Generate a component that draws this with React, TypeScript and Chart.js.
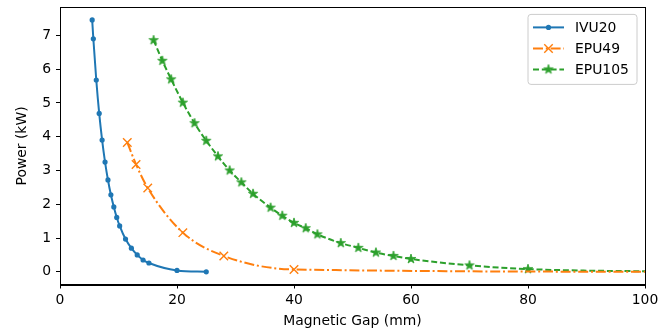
import React, { useEffect, useRef } from 'react';
import { Chart, registerables } from 'chart.js';

Chart.register(...registerables);

// ---- Data ----
const ivuGap = [5.5, 5.7, 6.2, 6.7, 7.2, 7.7, 8.2, 8.7, 9.2, 9.7, 10.2, 11.2, 12.2, 13.2, 14.2, 15.2, 20, 25];
const ivuPower = [7.46, 6.9, 5.68, 4.69, 3.9, 3.25, 2.72, 2.28, 1.92, 1.61, 1.36, 0.97, 0.7, 0.5, 0.35, 0.26, 0.04, 0.0];

const epu49Gap = [11.5, 13, 15, 21, 28, 40, 110];
const epu49Power = [3.83, 3.18, 2.48, 1.16, 0.47, 0.07, 0.0];

const epu105Gap = [16, 17.5, 19, 21, 23, 25, 27, 29, 31, 33, 36, 38, 40, 42, 44, 48, 51, 54, 57, 60, 70, 80, 110];
const epu105Power = [6.86, 6.25, 5.7, 5.01, 4.4, 3.88, 3.42, 3.0, 2.65, 2.31, 1.9, 1.66, 1.45, 1.29, 1.11, 0.85, 0.71, 0.57, 0.47, 0.38, 0.19, 0.08, 0.0];

const seriesLabels = ['IVU20', 'EPU49', 'EPU105'];
const xTicks = [0, 20, 40, 60, 80, 100];
const yTicks = [0, 1, 2, 3, 4, 5, 6, 7];

const BLUE = '#1f77b4';
const ORANGE = '#ff7f0e';
const GREEN = '#2ca02c';
const FONT = "'DejaVu Sans', sans-serif";
const FS = 13.9;

function makeStar(color: string, r: number): HTMLCanvasElement {
  const s = Math.ceil(2 * r + 2);
  const c = document.createElement('canvas');
  c.width = s;
  c.height = s;
  const ctx = c.getContext('2d')!;
  ctx.translate(s / 2, s / 2);
  ctx.beginPath();
  for (let i = 0; i < 10; i++) {
    const rad = i % 2 === 0 ? r : r * 0.382;
    const a = -Math.PI / 2 + (i * Math.PI) / 5;
    const x = rad * Math.cos(a);
    const y = rad * Math.sin(a);
    if (i === 0) ctx.moveTo(x, y);
    else ctx.lineTo(x, y);
  }
  ctx.closePath();
  ctx.fillStyle = color;
  ctx.fill();
  ctx.strokeStyle = color;
  ctx.lineWidth = 0.8;
  ctx.stroke();
  return c;
}

const framePlugin = {
  id: 'mplFrame',
  afterDraw(chart: any) {
    const { ctx, chartArea } = chart;
    ctx.save();
    ctx.strokeStyle = '#000';
    ctx.lineWidth = 1;
    ctx.setLineDash([]);
    const l = Math.round(chartArea.left) + 0.5;
    const t = Math.round(chartArea.top) + 0.5;
    const r = Math.round(chartArea.right) + 0.5;
    const b = Math.round(chartArea.bottom) + 0.5;
    ctx.strokeRect(l, t, r - l, b - t);
    ctx.restore();
  },
};

function drawMarker(ctx: CanvasRenderingContext2D, ds: any, x: number, y: number) {
  const style = ds.pointStyle;
  if (typeof style === 'object') {
    ctx.drawImage(style, x - style.width / 2, y - style.height / 2);
  } else if (style === 'circle') {
    ctx.beginPath();
    ctx.arc(x, y, ds.pointRadius, 0, Math.PI * 2);
    ctx.fillStyle = ds.pointBackgroundColor;
    ctx.fill();
  } else if (style === 'crossRot') {
    const r = ds.pointRadius * Math.SQRT1_2;
    ctx.setLineDash([]);
    ctx.lineWidth = ds.pointBorderWidth;
    ctx.strokeStyle = ds.pointBorderColor;
    ctx.beginPath();
    ctx.moveTo(x - r, y - r);
    ctx.lineTo(x + r, y + r);
    ctx.moveTo(x - r, y + r);
    ctx.lineTo(x + r, y - r);
    ctx.stroke();
  }
}

const legendPlugin = {
  id: 'mplLegend',
  afterDraw(chart: any) {
    const { ctx, chartArea } = chart;
    const w = 109;
    const h = 70;
    const x0 = chartArea.right - 8 - w;
    const y0 = chartArea.top + 7;
    ctx.save();
    ctx.beginPath();
    const rr = 3;
    ctx.moveTo(x0 + rr, y0);
    ctx.lineTo(x0 + w - rr, y0);
    ctx.arcTo(x0 + w, y0, x0 + w, y0 + rr, rr);
    ctx.lineTo(x0 + w, y0 + h - rr);
    ctx.arcTo(x0 + w, y0 + h, x0 + w - rr, y0 + h, rr);
    ctx.lineTo(x0 + rr, y0 + h);
    ctx.arcTo(x0, y0 + h, x0, y0 + h - rr, rr);
    ctx.lineTo(x0, y0 + rr);
    ctx.arcTo(x0, y0, x0 + rr, y0, rr);
    ctx.closePath();
    ctx.fillStyle = 'rgba(255,255,255,0.8)';
    ctx.fill();
    ctx.strokeStyle = '#cccccc';
    ctx.lineWidth = 1;
    ctx.stroke();

    chart.data.datasets.forEach((ds: any, i: number) => {
      const y = y0 + 13 + i * 21;
      ctx.save();
      ctx.setLineDash(ds.borderDash || []);
      ctx.strokeStyle = ds.borderColor;
      ctx.lineWidth = ds.borderWidth;
      ctx.beginPath();
      ctx.moveTo(x0 + 5, y);
      ctx.lineTo(x0 + 36, y);
      ctx.stroke();
      ctx.restore();
      ctx.save();
      drawMarker(ctx, ds, x0 + 20.5, y);
      ctx.restore();
      ctx.fillStyle = '#000';
      ctx.font = `${FS}px ${FONT}`;
      ctx.textBaseline = 'middle';
      ctx.textAlign = 'left';
      ctx.fillText(ds.label, x0 + 47, y + 0.5);
    });
    ctx.restore();
  },
};

export default function App() {
  const ref = useRef<HTMLCanvasElement | null>(null);

  useEffect(() => {
    if (!ref.current) return;
    const star = makeStar(GREEN, 5);
    const toPts = (xs: number[], ys: number[]) => xs.map((x, i) => ({ x, y: ys[i] }));
    const chart = new Chart(ref.current, {
      type: 'line',
      data: {
        datasets: [
          {
            label: seriesLabels[0],
            data: toPts(ivuGap, ivuPower),
            borderColor: BLUE,
            backgroundColor: BLUE,
            borderWidth: 2,
            pointStyle: 'circle',
            pointRadius: 2.6,
            pointBackgroundColor: BLUE,
            pointBorderColor: BLUE,
            pointBorderWidth: 0,
            cubicInterpolationMode: 'monotone',
            fill: false,
          },
          {
            label: seriesLabels[1],
            data: toPts(epu49Gap, epu49Power),
            borderColor: ORANGE,
            backgroundColor: ORANGE,
            borderWidth: 2,
            borderDash: [10, 2.8, 2, 2.8],
            pointStyle: 'crossRot',
            pointRadius: 6,
            pointBackgroundColor: ORANGE,
            pointBorderColor: ORANGE,
            pointBorderWidth: 1.4,
            cubicInterpolationMode: 'monotone',
            fill: false,
          },
          {
            label: seriesLabels[2],
            data: toPts(epu105Gap, epu105Power),
            borderColor: GREEN,
            backgroundColor: GREEN,
            borderWidth: 2,
            borderDash: [6, 2.8],
            pointStyle: star as any,
            pointRadius: 5,
            pointBackgroundColor: GREEN,
            pointBorderColor: GREEN,
            cubicInterpolationMode: 'monotone',
            fill: false,
          },
        ],
      },
      options: {
        animation: false,
        responsive: false,
        devicePixelRatio: 1,
        events: [],
        layout: { padding: { top: 5, right: 23, left: 0, bottom: 0 } },
        plugins: {
          legend: { display: false },
          tooltip: { enabled: false },
        },
        scales: {
          x: {
            type: 'linear',
            min: 0,
            max: 100,
            afterBuildTicks: (scale: any) => {
              scale.ticks = xTicks.map((v) => ({ value: v }));
            },
            afterFit: (scale: any) => {
              scale.height = 48.5;
              scale.paddingLeft = 0;
              scale.paddingRight = 0;
            },
            grid: { drawOnChartArea: false, drawTicks: true, tickLength: 4, color: '#000', lineWidth: 1 },
            border: { display: true, color: '#000', width: 1 },
            ticks: { color: '#000', font: { family: FONT, size: FS }, padding: 4, maxRotation: 0 },
            title: {
              display: true,
              text: 'Magnetic Gap (mm)',
              color: '#000',
              font: { family: FONT, size: FS },
              padding: { top: 0, bottom: 3 },
            },
          },
          y: {
            type: 'linear',
            min: -0.376,
            max: 7.83,
            afterBuildTicks: (scale: any) => {
              scale.ticks = yTicks.map((v) => ({ value: v }));
            },
            afterFit: (scale: any) => {
              scale.width = 60;
              scale.paddingTop = 0;
              scale.paddingBottom = 0;
            },
            grid: { drawOnChartArea: false, drawTicks: true, tickLength: 4, color: '#000', lineWidth: 1 },
            border: { display: true, color: '#000', width: 1 },
            ticks: { color: '#000', font: { family: FONT, size: FS }, padding: 5 },
            title: {
              display: true,
              text: 'Power (kW)',
              color: '#000',
              font: { family: FONT, size: FS },
              padding: { top: 14.5, bottom: 0 },
            },
          },
        },
      },
      plugins: [framePlugin, legendPlugin],
    });
    return () => chart.destroy();
  }, []);

  return (
    <div style={{ position: 'fixed', left: 0, top: 0, width: 668, height: 333, background: '#fff' }}>
      <canvas ref={ref} width={668} height={333} style={{ width: 668, height: 333, display: 'block' }} />
    </div>
  );
}
